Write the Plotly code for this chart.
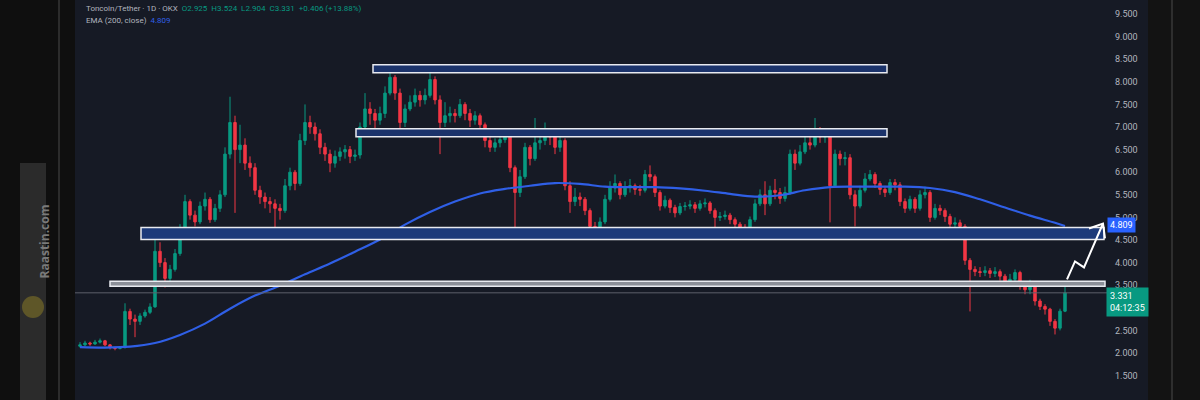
import plotly.graph_objects as go

# ---------------- data ----------------
first_open = 2.15
closes = [2.18, 2.22, 2.20, 2.24, 2.27, 2.18, 2.12, 2.10, 2.12, 2.92,
          2.75, 2.70, 2.82, 2.90, 3.02, 4.25, 4.00, 3.65, 3.85, 4.20,
          4.75, 5.35, 5.05, 4.90, 5.25, 5.40, 4.95, 5.20, 5.50, 6.40,
          7.10, 6.50, 6.60, 6.20, 6.10, 5.60, 5.45, 5.35, 5.30, 5.20,
          5.15, 5.70, 6.00, 5.75, 6.70, 7.10, 7.00, 6.85, 6.55, 6.40,
          6.20, 6.35, 6.45, 6.50, 6.35, 6.38, 7.00, 7.40, 7.30, 7.15,
          7.30, 7.75, 8.10, 7.75, 7.10, 7.40, 7.55, 7.70, 7.60, 7.70,
          8.05, 7.60, 7.10, 7.25, 7.30, 7.25, 7.50, 7.30, 7.15, 7.25,
          7.05, 6.70, 6.55, 6.65, 6.72, 6.78, 6.10, 5.55, 5.90, 6.55,
          6.30, 6.65, 6.70, 6.90, 6.78, 6.55, 6.70, 5.70, 5.35, 5.45,
          5.40, 5.15, 4.80, 4.70, 4.90, 5.40, 5.65, 5.75, 5.50, 5.68,
          5.70, 5.62, 5.60, 5.95, 5.90, 5.55, 5.25, 5.38, 5.22, 5.10,
          5.24, 5.25, 5.28, 5.20, 5.30, 5.32, 5.15, 5.00, 5.02, 5.05,
          4.95, 4.85, 4.78, 4.72, 4.95, 5.30, 5.50, 5.30, 5.60, 5.55,
          5.42, 5.55, 6.40, 6.20, 6.45, 6.65, 6.60, 6.90, 6.78, 6.80,
          5.70, 6.40, 6.30, 6.32, 5.50, 5.25, 5.60, 5.85, 5.95, 5.75,
          5.62, 5.55, 5.77, 5.72, 5.35, 5.20, 5.40, 5.20, 5.50, 5.55,
          5.00, 5.20, 5.15, 5.02, 4.85, 4.88, 4.80, 4.05, 3.85, 3.80,
          3.78, 3.82, 3.76, 3.80, 3.70, 3.58, 3.63, 3.78, 3.47, 3.40,
          3.55, 3.15, 3.03, 2.97, 2.70, 2.55, 2.925, 3.331]
highs = [2.24, 2.27, 2.25, 2.29, 2.32, 2.29, 2.20, 2.14, 2.15, 3.10,
         2.98, 2.85, 2.88, 2.96, 3.10, 4.55, 4.45, 4.10, 3.95, 4.30,
         4.85, 5.50, 5.40, 5.15, 5.35, 5.55, 5.45, 5.30, 5.60, 6.55,
         7.67, 7.25, 7.05, 6.75, 6.35, 6.20, 5.70, 5.55, 5.45, 5.40,
         5.30, 5.85, 6.10, 6.05, 6.85, 7.50, 7.25, 7.10, 6.95, 6.65,
         6.50, 6.48, 6.55, 6.60, 6.58, 6.50, 7.10, 7.75, 7.55, 7.40,
         7.45, 7.90, 8.25, 8.15, 7.85, 7.50, 7.70, 7.85, 7.80, 7.85,
         8.20, 8.12, 7.70, 7.55, 7.45, 7.40, 7.62, 7.55, 7.40, 7.35,
         7.30, 7.10, 6.78, 6.75, 6.82, 6.95, 6.85, 6.15, 6.05, 6.65,
         6.60, 7.20, 6.85, 7.10, 6.95, 6.85, 6.85, 6.75, 5.80, 5.65,
         5.55, 5.45, 5.20, 4.90, 5.00, 5.50, 5.80, 5.95, 5.80, 5.80,
         5.85, 5.75, 5.72, 6.05, 6.15, 5.95, 5.60, 5.48, 5.42, 5.28,
         5.32, 5.34, 5.38, 5.34, 5.38, 5.42, 5.36, 5.20, 5.12, 5.15,
         5.10, 5.00, 4.90, 4.85, 5.02, 5.40, 5.62, 5.80, 5.70, 5.85,
         5.65, 5.68, 6.50, 6.50, 6.60, 6.80, 6.95, 7.20, 7.00, 6.95,
         6.85, 6.50, 6.48, 6.45, 6.40, 5.60, 5.70, 5.98, 6.05, 6.00,
         5.80, 5.70, 5.85, 5.85, 5.78, 5.42, 5.48, 5.45, 5.60, 5.68,
         5.60, 5.30, 5.28, 5.20, 5.08, 5.00, 4.95, 4.85, 4.10, 3.92,
         3.90, 3.92, 3.88, 3.90, 3.85, 3.75, 3.75, 3.85, 3.82, 3.52,
         3.62, 3.58, 3.20, 3.08, 3.00, 2.75, 2.98, 3.524]
lows = [2.12, 2.15, 2.16, 2.18, 2.21, 2.15, 2.08, 2.06, 2.08, 2.10,
        2.62, 2.35, 2.62, 2.78, 2.86, 3.00, 3.90, 3.45, 3.55, 3.80,
        4.15, 4.70, 4.95, 4.80, 4.85, 5.15, 4.88, 4.90, 5.12, 5.45,
        6.30, 5.10, 6.20, 6.05, 5.90, 5.50, 5.30, 5.20, 5.10, 4.73,
        4.95, 5.10, 5.60, 5.60, 5.70, 6.60, 6.85, 6.70, 6.40, 6.25,
        6.00, 6.10, 6.25, 6.30, 6.20, 6.25, 6.30, 6.95, 7.05, 6.85,
        7.05, 7.20, 7.70, 7.60, 6.85, 7.00, 7.35, 7.45, 7.45, 7.50,
        7.65, 7.50, 6.40, 7.00, 7.10, 7.10, 7.20, 7.15, 7.00, 7.05,
        6.90, 6.55, 6.45, 6.45, 6.55, 6.65, 6.00, 4.78, 5.45, 5.85,
        6.15, 6.25, 6.50, 6.60, 6.60, 6.40, 6.45, 5.60, 5.10, 5.25,
        5.25, 5.05, 4.70, 4.50, 4.60, 4.85, 5.35, 5.55, 5.40, 5.45,
        5.55, 5.50, 5.48, 5.55, 5.80, 5.45, 5.15, 5.20, 5.10, 5.00,
        5.05, 5.15, 5.18, 5.10, 5.15, 5.22, 5.08, 4.58, 4.92, 4.95,
        4.85, 4.75, 4.68, 4.55, 4.68, 4.90, 5.25, 5.05, 5.25, 5.40,
        5.30, 5.35, 5.50, 6.05, 6.15, 6.40, 6.50, 6.55, 6.65, 6.65,
        4.89, 5.65, 6.15, 6.15, 5.40, 4.80, 5.20, 5.55, 5.80, 5.65,
        5.50, 5.45, 5.50, 5.60, 5.25, 5.10, 5.15, 5.10, 5.15, 5.42,
        4.90, 4.95, 5.05, 4.90, 4.75, 4.78, 4.70, 3.95, 2.92, 3.70,
        3.68, 3.70, 3.66, 3.68, 3.60, 3.50, 3.52, 3.58, 3.40, 3.30,
        3.30, 3.05, 2.95, 2.85, 2.60, 2.41, 2.50, 2.904]
opens = [first_open] + closes[:-1]
candle_idx = list(range(len(closes)))

# EMA(200, close) read at every 5th candle (plus last)
ema_idx = [0, 5, 10, 15, 20, 25, 30, 35, 40, 45, 50, 55, 60, 65, 70, 75, 80,
           85, 90, 95, 100, 105, 110, 115, 120, 125, 130, 135, 140, 145, 150,
           155, 160, 165, 170, 175, 180, 185, 190, 195, 197]
ema_vals = [2.13, 2.12, 2.14, 2.22, 2.40, 2.65, 2.98, 3.27, 3.49, 3.74, 3.98,
            4.24, 4.51, 4.84, 5.12, 5.35, 5.53, 5.63, 5.70, 5.76, 5.74, 5.68,
            5.67, 5.67, 5.64, 5.59, 5.52, 5.46, 5.49, 5.60, 5.67, 5.68, 5.68,
            5.68, 5.65, 5.56, 5.40, 5.22, 5.04, 4.88, 4.809]

# drawn zones (price levels and candle span)
zone_lo = [8.199, 6.786, 4.512, 3.474]
zone_hi = [8.375, 6.962, 4.777, 3.585]
zone_x0 = [58.6, 55.2, 12.2, 6.0]
zone_x1 = [161.4, 161.4, 204.8, 205.0]

# hand-drawn projection arrow (candle index, price)
arrow_x = [197.4, 199.0, 200.8, 204.6]
arrow_p = [3.629, 4.026, 3.894, 4.865]

last_price = 3.331
ema_last = 4.809
y_ticks = [1.0, 1.5, 2.0, 2.5, 3.0, 3.5, 4.0, 4.5, 5.0, 5.5, 6.0, 6.5, 7.0, 7.5,
           8.0, 8.5, 9.0, 9.5]

# ---------------- styles ----------------
UP = "#089981"
DOWN = "#f23645"
NAVY = "#161a25"
DARK = "#0f0f0f"
FONT = "Roboto"

fig = go.Figure()

fig.add_trace(go.Candlestick(
    x=candle_idx, open=opens, high=highs, low=lows, close=closes,
    increasing=dict(line=dict(color=UP, width=1), fillcolor=UP),
    decreasing=dict(line=dict(color=DOWN, width=1), fillcolor=DOWN),
    whiskerwidth=0, showlegend=False, hoverinfo="skip",
))

fig.add_trace(go.Scatter(
    x=ema_idx, y=ema_vals, mode="lines",
    line=dict(color="#2f5fe6", width=2.2, shape="spline", smoothing=1.0),
    showlegend=False, hoverinfo="skip",
))

shapes = []
W = 1035.0  # plot width px
H = 400.0


def px_x(p):
    return (p - 75) / W


# outer dark strips and decorations
shapes.append(dict(type="rect", xref="paper", yref="paper", x0=px_x(0), x1=px_x(75),
                   y0=-0.01, y1=1.01, fillcolor=DARK, line=dict(width=0), layer="below"))
shapes.append(dict(type="rect", xref="paper", yref="paper", x0=px_x(1148), x1=px_x(1200),
                   y0=-0.01, y1=1.01, fillcolor="#131313", line=dict(width=0), layer="below"))
shapes.append(dict(type="line", xref="paper", yref="paper", x0=px_x(59), x1=px_x(59),
                   y0=-0.01, y1=1.01, line=dict(color="#4a4a4a", width=1)))
shapes.append(dict(type="line", xref="paper", yref="paper", x0=px_x(1172), x1=px_x(1172),
                   y0=-0.01, y1=1.01, line=dict(color="#4a4a4a", width=1)))
shapes.append(dict(type="rect", xref="paper", yref="paper", x0=px_x(20), x1=px_x(46),
                   y0=-0.02, y1=1 - 163 / H, fillcolor="#2b2b2b", line=dict(width=0)))
shapes.append(dict(type="circle", xref="paper", yref="paper",
                   x0=px_x(22), x1=px_x(44), y0=1 - 318 / H, y1=1 - 296 / H,
                   fillcolor="#5e5628", line=dict(width=0)))

# current price line
shapes.append(dict(type="line", xref="paper", yref="y", x0=0, x1=1,
                   y0=last_price, y1=last_price, line=dict(color="#5d606b", width=1)))

# zones
zone_fill = ["#1b336b", "#1b336b", "#1c3a7a", "#8c9099"]
for lo, hi, x0, x1, fc in zip(zone_lo, zone_hi, zone_x0, zone_x1, zone_fill):
    shapes.append(dict(type="rect", xref="x", yref="y", x0=x0, x1=x1, y0=lo, y1=hi,
                       fillcolor=fc, line=dict(color="#e8eaf0", width=1.5)))

# arrow zig-zag
path = "M " + " L ".join(f"{x},{p}" for x, p in zip(arrow_x, arrow_p))
shapes.append(dict(type="path", xref="x", yref="y", path=path,
                   line=dict(color="white", width=2)))
tip_x, tip_p = arrow_x[-1], arrow_p[-1]
shapes.append(dict(type="path", xref="x", yref="y",
                   path=f"M 201.8,4.755 L {tip_x},{tip_p} L 205.0,4.534",
                   line=dict(color="white", width=2)))

annotations = []
GRAY = "#b2b5be"
header = (f"<span style='color:{GRAY}'>Toncoin/Tether · 1D · OKX</span>  "
          f"<span style='color:{UP}'>O2.925  H3.524  L2.904  C3.331  +0.406 (+13.88%)</span>")
annotations.append(dict(xref="paper", yref="paper", x=px_x(84), y=1 - 8 / H, text=header,
                        showarrow=False, xanchor="left", yanchor="middle",
                        font=dict(family=FONT, size=8)))
annotations.append(dict(xref="paper", yref="paper", x=px_x(84), y=1 - 20 / H,
                        text=f"<span style='color:{GRAY}'>EMA (200, close)</span>  "
                             f"<span style='color:#2f5fe6'>{ema_last:.3f}</span>",
                        showarrow=False, xanchor="left", yanchor="middle",
                        font=dict(family=FONT, size=8)))

# price labels on axis
annotations.append(dict(xref="paper", yref="y", x=px_x(1107), y=ema_last + 0.03,
                        text=f"{ema_last:.3f}", showarrow=False, xanchor="left",
                        yanchor="middle", bgcolor="#2962ff", borderpad=2,
                        font=dict(family=FONT, size=9, color="white")))
annotations.append(dict(xref="paper", yref="y", x=px_x(1106), y=last_price + 0.12,
                        text=f"{last_price:.3f}<br>04:12:35", showarrow=False,
                        xanchor="left", yanchor="top", align="left",
                        bgcolor=UP, borderpad=3,
                        font=dict(family=FONT, size=9, color="white")))

# watermark
annotations.append(dict(xref="paper", yref="paper", x=px_x(33), y=1 - 242 / H,
                        text="<b>Raastin.com</b>", textangle=-90, showarrow=False,
                        font=dict(family="Open Sans", size=12, color="#7a7a7a")))

fig.update_layout(
    width=1200, height=400,
    margin=dict(l=75, r=90, t=0, b=0),
    paper_bgcolor=NAVY, plot_bgcolor=NAVY,
    shapes=shapes, annotations=annotations,
    xaxis=dict(range=[-1, 206], showticklabels=False, showgrid=False, zeroline=False,
               rangeslider=dict(visible=False), fixedrange=True),
    yaxis=dict(range=[0.96, 9.81], side="right", tickvals=y_ticks,
               tickformat=".3f", showgrid=False, zeroline=False,
               tickfont=dict(family=FONT, size=9, color=GRAY), ticks="",
               ticklabelstandoff=4),
)

fig.write_html("out.html",
               config={"displayModeBar": False, "staticPlot": True},
               post_script="document.body.style.margin='0px';"
                           "document.body.style.overflow='hidden';")
